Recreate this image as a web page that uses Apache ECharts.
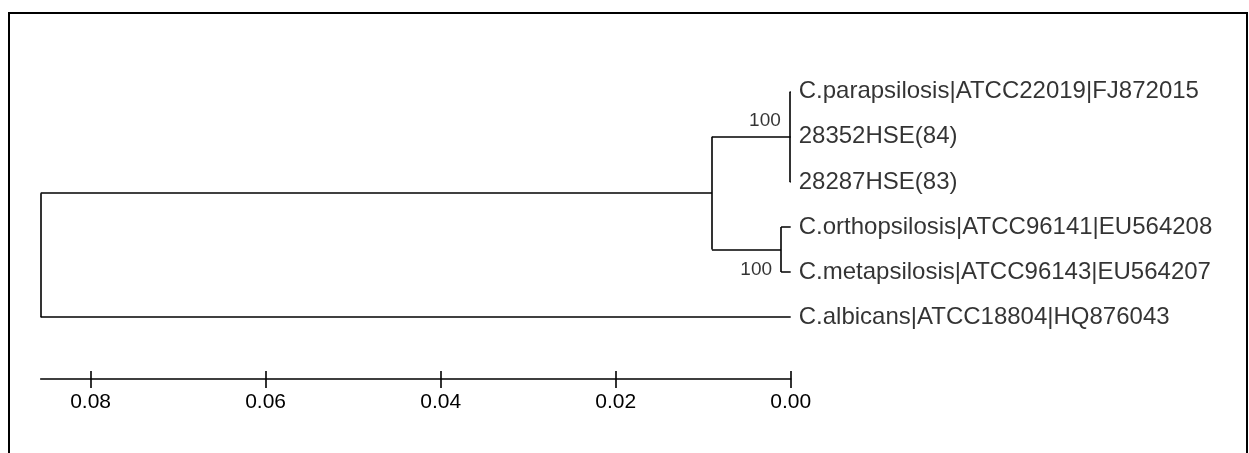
<!DOCTYPE html>
<html>
<head>
<meta charset="utf-8">
<script src="https://cdn.jsdelivr.net/npm/echarts@6/dist/echarts.min.js"></script>
<style>
html,body{margin:0;padding:0;background:#fff;}
#chart{width:1249px;height:453px;}
</style>
</head>
<body>
<div id="chart"></div>
<script>
// ---- data ----
const taxa = [
  'C.parapsilosis|ATCC22019|FJ872015',
  '28352HSE(84)',
  '28287HSE(83)',
  'C.orthopsilosis|ATCC96141|EU564208',
  'C.metapsilosis|ATCC96143|EU564207',
  'C.albicans|ATCC18804|HQ876043'
];
const taxaHeight = [0, 0, 0, 0, 0, 0];          // distance from tips
const taxaParent = [2, 2, 2, 3, 3, 0];          // index of parent internal node
const nodeNames = ['root', 'psilosisClade', 'parapsilosisClade', 'orthoMetaClade'];
const nodeParent = [-1, 0, 1, 1];
const nodeHeight = [0.0857, 0.0090, 0.0001, 0.0011];
const bootstrap = [null, null, 100, 100];
const scaleTicks = [0, 0.02, 0.04, 0.06, 0.08];

// ---- tree layout (y = leaf order) ----
const nodeY = new Array(nodeNames.length).fill(null);
function childrenOf(n) {
  const kids = [];
  taxa.forEach((t, i) => { if (taxaParent[i] === n) kids.push({ y: i, h: taxaHeight[i] }); });
  nodeParent.forEach((p, j) => { if (p === n) kids.push({ node: j }); });
  return kids;
}
function yOf(n) {
  if (nodeY[n] !== null) return nodeY[n];
  const ys = childrenOf(n).map(k => k.node !== undefined ? yOf(k.node) : k.y);
  nodeY[n] = (Math.min(...ys) + Math.max(...ys)) / 2;
  return nodeY[n];
}
const segs = [];
nodeNames.forEach((nm, n) => {
  const kids = childrenOf(n).map(k => k.node !== undefined ? { y: yOf(k.node), h: nodeHeight[k.node] } : k);
  const ys = kids.map(k => k.y);
  segs.push({ coords: [[nodeHeight[n], Math.min(...ys)], [nodeHeight[n], Math.max(...ys)]] });
  kids.forEach(k => segs.push({ coords: [[nodeHeight[n], k.y], [k.h, k.y]] }));
});
const leafPts = taxa.map((t, i) => ({ value: [taxaHeight[i], i], name: t }));
const bsPts = [];
nodeNames.forEach((nm, n) => {
  if (bootstrap[n] !== null) bsPts.push({ value: [nodeHeight[n], yOf(n)], bs: bootstrap[n], idx: n });
});

const FONT = '"Liberation Sans", Arial, sans-serif';
const GRID_TOP = 46.6, AXIS_Y = 379;
const chart = echarts.init(document.getElementById('chart'), null, { renderer: 'canvas' });
chart.setOption({
  animation: false,
  backgroundColor: '#fff',
  grid: { left: 40.7, right: 458.3, top: GRID_TOP, bottom: 453 - AXIS_Y, containLabel: false },
  xAxis: [
    {
      type: 'value', min: 0, max: 0.0857, inverse: true, position: 'bottom',
      splitLine: { show: false },
      axisLine: { show: true, onZero: false, lineStyle: { color: '#000', width: 1.6 } },
      axisTick: { show: true, inside: false, length: 9, customValues: scaleTicks, lineStyle: { color: '#000', width: 1.6 } },
      axisLabel: { show: true, customValues: scaleTicks, margin: 13, color: '#000', fontSize: 21, fontFamily: FONT,
        formatter: v => v.toFixed(2) }
    },
    {
      type: 'value', min: 0, max: 0.0857, inverse: true, position: 'top', offset: -(AXIS_Y - GRID_TOP),
      splitLine: { show: false },
      axisLine: { show: false, onZero: false },
      axisTick: { show: true, inside: false, length: 8, customValues: scaleTicks, lineStyle: { color: '#000', width: 1.6 } },
      axisLabel: { show: false }
    }
  ],
  yAxis: { type: 'value', min: -1, max: 6.37, inverse: true, show: false },
  graphic: [{
    type: 'rect', shape: { x: 9, y: 13, width: 1238, height: 470 },
    style: { fill: 'none', stroke: '#000', lineWidth: 2 }, silent: true
  }],
  series: [
    {
      type: 'lines', coordinateSystem: 'cartesian2d', polyline: false, silent: true,
      data: segs, lineStyle: { color: '#000', width: 1.6, opacity: 1 }, symbol: 'none'
    },
    {
      type: 'scatter', symbolSize: 0, silent: true, data: leafPts,
      label: { show: true, position: 'right', distance: 8, color: '#000', fontSize: 24, fontFamily: FONT,
        formatter: p => p.name }
    },
    {
      type: 'scatter', symbolSize: 0, silent: true,
      data: bsPts.map(d => ({ value: d.value, bs: d.bs,
        label: { offset: d.idx === 2 ? [0, -16] : [0, 20] } })),
      label: { show: true, position: 'left', distance: 9, color: '#000', fontSize: 19, fontFamily: FONT,
        formatter: p => String(p.data.bs) }
    }
  ]
});
</script>
</body>
</html>
